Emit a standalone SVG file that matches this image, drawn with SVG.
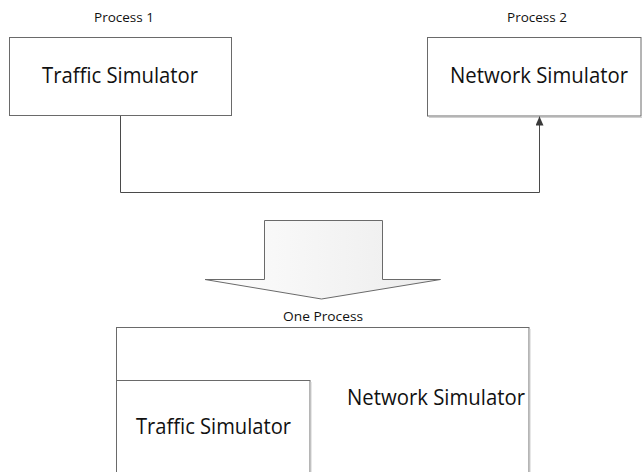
<svg xmlns="http://www.w3.org/2000/svg" width="642" height="472" viewBox="0 0 642 472">
  <defs>
    <style>
      .box { fill: #ffffff; stroke: #6a6a6a; stroke-width: 1; }
      .shadow { fill: none; stroke: #d0d0d0; stroke-width: 1; }
      .label { font-family: "Open Sans", "Noto Sans", sans-serif; font-size: 21px; fill: #111111; }
      .caption { font-family: "Open Sans", "Noto Sans", sans-serif; font-size: 13.5px; fill: #111111; }
      .wire { fill: none; stroke: #4a4a4a; stroke-width: 1; }
    </style>
    <marker id="arrowhead" markerWidth="9" markerHeight="8" refX="9" refY="4" orient="auto" markerUnits="userSpaceOnUse" viewBox="0 0 9 8">
      <path d="M0,0 L9,4 L0,8 Z" fill="#3a3a3a"/>
    </marker>
    <linearGradient id="bigArrowFill" x1="0" y1="0" x2="1" y2="0">
      <stop offset="0" stop-color="#fdfdfd"/>
      <stop offset="1" stop-color="#ececec"/>
    </linearGradient>
  </defs>

  <rect width="642" height="472" fill="#ffffff"/>

  <!-- Separate processes -->
  <g id="process1">
    <text class="caption" x="94" y="21.5" textLength="60" lengthAdjust="spacingAndGlyphs">Process 1</text>
  </g>
  <g id="traffic-sim-1">
    <rect class="box" x="9.5" y="37.5" width="222" height="78"/>
    <text class="label" x="42" y="82.5" textLength="156" lengthAdjust="spacingAndGlyphs">Traffic Simulator</text>
  </g>

  <g id="process2">
    <text class="caption" x="507" y="21.5" textLength="60" lengthAdjust="spacingAndGlyphs">Process 2</text>
  </g>
  <g id="network-sim-1">
    <line class="shadow" x1="429" y1="117.5" x2="642" y2="117.5"/>
    <rect class="box" x="427.5" y="37.5" width="213.5" height="78.5"/>
    <text class="label" x="450" y="82.5" textLength="178" lengthAdjust="spacingAndGlyphs">Network Simulator</text>
  </g>

  <g id="connectors">
    <path class="wire" d="M120.5,116 V192.5 H539.5 V116.5" marker-end="url(#arrowhead)"/>
  </g>

  <!-- Merge arrow -->
  <g id="merge-arrow">
    <path d="M264.5,220.5 H382.5 V279.5 H440.5 L321.5,299 L205,279.5 H264.5 Z" fill="url(#bigArrowFill)" stroke="#6a6a6a" stroke-width="1" stroke-linejoin="miter"/>
  </g>

  <!-- Combined process -->
  <g id="one-process">
    <text class="caption" x="283" y="320.5" textLength="80" lengthAdjust="spacingAndGlyphs">One Process</text>
  </g>
  <g id="network-sim-2">
    <rect class="box" x="116.5" y="327.5" width="412.5" height="160"/>
    <line class="shadow" x1="530" y1="329" x2="530" y2="472"/>
    <text class="label" x="347" y="404.5" textLength="178" lengthAdjust="spacingAndGlyphs">Network Simulator</text>
  </g>
  <g id="traffic-sim-2">
    <rect class="box" x="116.5" y="380.5" width="193.5" height="110"/>
    <line class="shadow" x1="311" y1="382" x2="311" y2="472"/>
    <text class="label" x="136" y="433.5" textLength="155" lengthAdjust="spacingAndGlyphs">Traffic Simulator</text>
  </g>
</svg>
